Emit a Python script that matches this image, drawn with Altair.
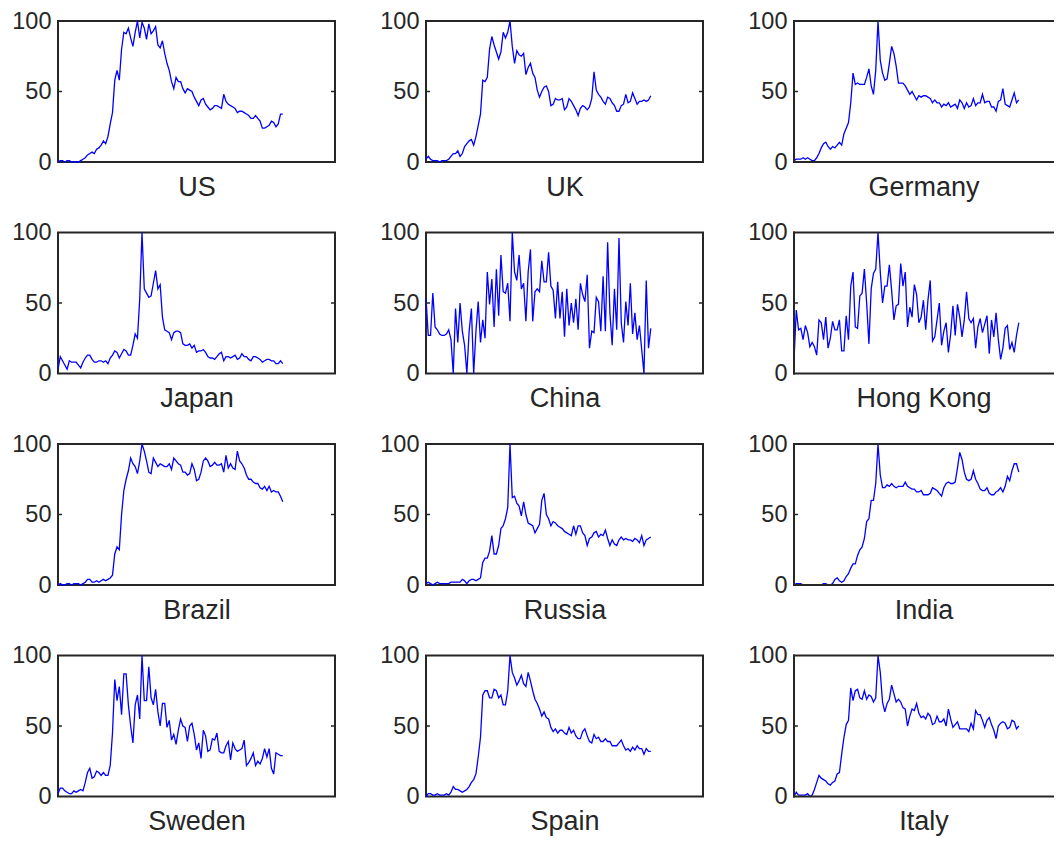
import altair as alt
import pandas as pd

countries = ["US", "UK", "Germany", "Japan", "China", "Hong Kong",
             "Brazil", "Russia", "India", "Sweden", "Spain", "Italy"]

us = [0,1,1,0,1,1,0,0,0,0, 1,2,3,5,6,7,6,9,10,12, 15,13,18,27,35,58,65,58,80,92,
      91,95,88,82,92,100,88,99,95,87, 98,91,93,96,83,81,86,77,70,65, 57,52,60,57,57,52,49,52,51,50,
      46,43,40,44,45,41,39,37,38,40, 40,39,38,48,43,41,40,39,38,35, 36,36,35,34,33,31,31,33,31,29,
      24,24,25,26,29,28,25,27,34,34]
uk = [2,4,2,1,1,1,0,1,1,1, 2,4,6,6,8,4,6,11,13,15, 16,12,18,26,34,58,57,60,80,89,
      83,78,73,78,92,88,92,100,82,70, 79,76,75,77,62,67,70,63,60,51, 46,50,53,54,50,40,41,45,44,44,
      45,37,39,45,43,40,37,33,38,40, 39,37,39,45,64,51,48,46,43,41, 46,45,42,40,36,36,40,41,48,42,
      43,49,45,41,43,43,44,43,44,47]
germany = [1,2,2,2,3,2,3,2,1,1, 3,6,10,13,14,11,9,11,10,12, 14,12,20,24,28,42,63,55,56,55,
           55,55,60,66,54,48,65,100,72,63, 58,59,70,82,77,68,56,56,56,54, 51,48,50,47,44,47,46,47,47,46,
           45,42,44,42,42,39,41,40,42,39, 40,41,38,44,42,38,42,39,40,45, 40,42,42,48,42,43,43,39,39,36,
           43,44,52,41,40,39,44,49,42,44]
japan = [3,12,9,6,3,9,8,8,8,6, 4,8,11,13,13,10,8,8,9,9, 8,9,7,11,13,16,15,11,14,17,
         16,13,13,20,28,25,53,100,60,57, 54,55,64,73,60,63,40,31,30,29, 24,29,30,30,29,21,20,20,21,18,
         20,15,16,16,17,15,12,11,11,10, 12,14,15,9,12,12,11,12,13,10, 11,14,12,12,10,9,12,12,11,10,
         8,9,10,10,9,9,7,7,9,7]
china = [53,27,27,57,33,31,28,27,27,28, 31,24,0,46,22,50,30,20,0,30, 46,0,30,51,22,38,25,72,49,67,
         33,74,41,84,58,57,64,37,100,72, 66,84,60,64,37,72,88,37,58,60, 58,80,65,65,86,62,59,39,65,39,
         58,26,60,34,50,36,53,31,64,56, 51,70,18,30,29,54,51,30,69,30, 93,43,20,60,31,96,36,22,51,34,
         64,28,43,24,34,17,0,66,18,32]
hong_kong = [9,45,31,32,24,34,29,19,22,19, 13,38,36,24,40,18,25,37,31,31, 38,16,16,41,24,62,72,33,32,55,
             57,74,50,21,60,71,74,100,72,50, 62,62,77,59,38,48,49,78,62,72, 33,47,40,63,56,36,40,52,31,52,
             66,23,26,38,50,20,30,36,15,28, 48,27,49,40,26,38,58,39,36,39, 18,33,39,29,35,41,14,38,26,43,
             24,10,18,32,34,17,22,15,27,36]
brazil = [0,1,0,0,1,1,0,1,1,1, 0,1,2,4,4,2,2,3,2,3, 4,3,4,5,7,22,27,25,50,67,
          75,81,90,86,84,79,88,100,95,88, 80,79,90,87,84,86,85,84,84,86, 82,90,88,86,85,80,80,78,79,86,
          82,74,75,80,88,90,88,84,85,87, 85,85,86,80,92,83,86,83,82,95, 88,86,83,78,75,75,73,72,72,69,
          68,70,67,70,66,67,66,66,63,59]
russia = [1,2,1,0,1,2,1,1,1,1, 1,2,2,2,2,2,4,3,1,3, 4,4,3,4,5,16,19,19,24,35,
          22,22,28,40,42,47,55,100,62,63, 58,56,49,59,50,44,43,42,37,40, 43,60,65,50,47,42,45,44,42,41,
          40,38,37,36,35,42,36,42,42,37, 35,28,33,34,37,38,34,36,35,39, 33,28,32,29,28,32,34,32,33,32,
          32,31,33,32,30,35,28,32,33,34]
india = [0,1,1,1,0,0,0,0,0,0, 0,0,0,1,1,0,0,1,4,5, 3,2,3,6,8,12,15,15,21,25,
         27,33,45,47,60,60,72,100,78,69, 69,71,70,72,70,69,70,70,70,73, 70,69,68,68,66,66,67,64,64,64,
         65,69,68,67,65,63,69,72,73,72, 72,73,83,94,89,80,75,74,75,81, 75,72,68,67,67,69,65,64,64,66,
         67,69,66,70,77,74,81,86,86,80]
sweden = [2,6,6,4,3,2,2,4,3,4, 5,4,10,17,20,13,14,18,17,15, 17,15,15,22,45,83,68,78,58,87,
          87,65,50,38,65,72,55,100,68,68, 92,70,65,76,60,50,66,66,49,54, 40,44,37,47,55,50,49,39,50,52,
          44,33,38,27,47,43,32,33,41,40, 45,32,31,31,36,39,26,38,34,32, 33,34,40,22,24,27,31,22,25,23,
          27,34,28,34,20,16,31,30,29,29]
spain = [0,2,2,1,1,2,1,1,1,2, 1,3,7,5,5,4,3,4,5,7, 10,12,16,28,42,72,75,75,70,70,
         76,75,70,72,65,65,75,100,88,84, 79,82,86,80,78,88,82,75,69,66, 62,57,60,56,55,49,46,48,45,47,
         47,45,44,49,45,47,43,41,41,46, 48,43,39,38,44,41,42,39,39,41, 39,39,36,36,36,38,40,36,33,34,
         32,35,33,36,34,34,30,34,32,32]
italy = [0,3,1,1,1,1,2,0,1,5, 10,15,13,12,11,9,8,10,11,16, 17,30,42,51,54,77,68,75,76,70,
         69,75,69,72,71,67,70,100,88,67, 60,66,69,79,73,67,69,67,63,62, 50,57,62,61,66,59,56,57,55,59,
         57,51,52,57,53,53,55,50,62,55, 49,51,53,48,48,48,48,46,52,48, 61,58,58,54,49,54,56,51,47,41,
         50,52,53,52,48,49,54,53,48,50]

series = [us, uk, germany, japan, china, hong_kong, brazil, russia, india, sweden, spain, italy]
days = list(range(len(us)))
x_max = 122          # x-axis extent in days (data covers ~81% of it)
y_ticks = [0, 50, 100]
mid_tick = [50]

FONT = "Liberation Sans"
TEXT = "#262626"
W, H = 277, 141
W_LAST = 259         # right-hand column is cut off by the page edge, as in the original


def panel(name, vals, width, open_right):
    df = pd.DataFrame({"day": days, "value": vals})
    xmax = x_max * width / W
    yaxis = alt.Axis(values=y_ticks, title=None, grid=False, domain=False,
                     ticks=False, labelPadding=7)
    yscale = alt.Scale(domain=[0, 100], nice=False)
    line = alt.Chart(df).mark_line(color="#0000ff", strokeWidth=1.3).encode(
        x=alt.X("day:Q", scale=alt.Scale(domain=[0, xmax], nice=False, zero=False),
                axis=alt.Axis(title=name, labels=False, ticks=False, domain=False,
                              grid=False, titlePadding=12)),
        y=alt.Y("value:Q", scale=yscale, axis=yaxis),
    )
    tdf = pd.DataFrame({"t": mid_tick})
    layers = [line]
    layers.append(alt.Chart(tdf).mark_rule(color=TEXT, strokeWidth=1.5).encode(
        y=alt.Y("t:Q", scale=yscale, axis=yaxis), x=alt.value(0), x2=alt.value(4)))
    if open_right:
        one = pd.DataFrame({"k": [0]})
        frame = dict(color=TEXT, strokeWidth=2, strokeCap="square")
        layers.append(alt.Chart(one).mark_rule(**frame).encode(
            x=alt.value(0), x2=alt.value(width), y=alt.value(0)))
        layers.append(alt.Chart(one).mark_rule(**frame).encode(
            x=alt.value(0), x2=alt.value(width), y=alt.value(H)))
        layers.append(alt.Chart(one).mark_rule(**frame).encode(
            x=alt.value(0), y=alt.value(0), y2=alt.value(H)))
        return alt.layer(*layers).properties(
            width=width, height=H, view=alt.ViewBackground(strokeOpacity=0))
    layers.append(alt.Chart(tdf).mark_rule(color=TEXT, strokeWidth=1.5).encode(
        y=alt.Y("t:Q", scale=yscale, axis=yaxis), x=alt.value(width - 4), x2=alt.value(width)))
    return alt.layer(*layers).properties(width=width, height=H)


panels = []
for i, (n, v) in enumerate(zip(countries, series)):
    last = (i % 3 == 2)
    panels.append(panel(n, v, W_LAST if last else W, last))

chart = alt.concat(
    *panels, columns=3, spacing={"row": 70.5, "column": 91}, bounds="flush"
).properties(
    padding={"left": 2, "top": 0, "right": 0, "bottom": 0}
).configure_view(
    stroke=TEXT, strokeWidth=2
).configure_axis(
    labelFont=FONT, labelFontSize=23.5, labelColor=TEXT,
    titleFont=FONT, titleFontSize=27, titleColor=TEXT, titleFontWeight="normal"
)

chart.save("out.html", embed_options={"renderer": "svg", "actions": False})
